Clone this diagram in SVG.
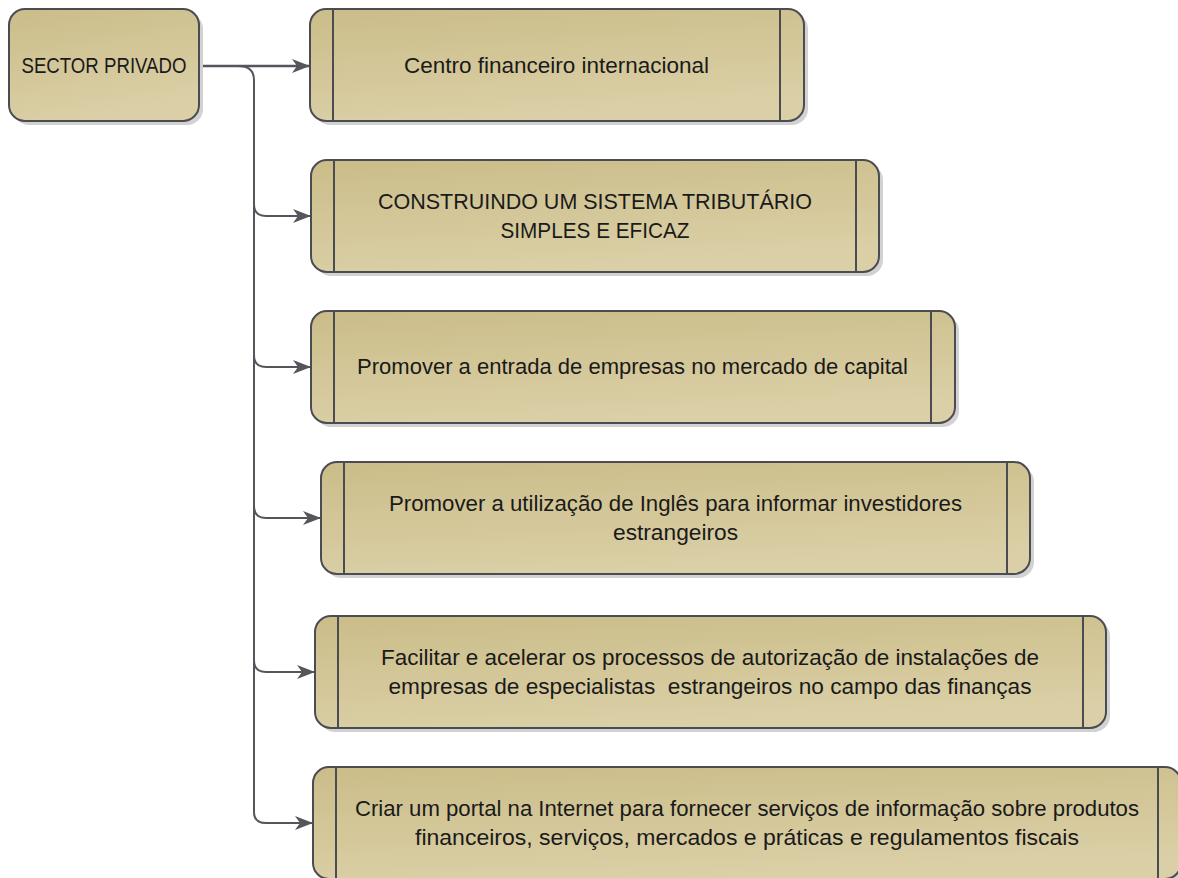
<svg xmlns="http://www.w3.org/2000/svg" width="1178" height="878" viewBox="0 0 1178 878">
<defs>
<linearGradient id="g" x1="0" y1="0" x2="0.3" y2="1">
<stop offset="0" stop-color="#cbbd89"/>
<stop offset="1" stop-color="#dacfa6"/>
</linearGradient>
<marker id="ah" viewBox="0 0 18 14" refX="18" refY="7" markerWidth="18" markerHeight="14" markerUnits="userSpaceOnUse" orient="auto">
<path d="M0,0 L18,7 L0,14 L5,7 Z" fill="#55555c"/>
</marker>
<style>
.sh{fill:#d2d2d2}
.bx{fill:url(#g);stroke:#4b4b52;stroke-width:2}
.dv{stroke:#4b4b52;stroke-width:2}
.t{font-family:"Liberation Sans",Arial,sans-serif;font-size:22px;fill:#1a1a1a;text-anchor:middle}
.c{fill:none;stroke:#55555c;stroke-width:2}
</style>
</defs>
<rect width="1178" height="878" fill="#ffffff"/>

<g id="connectors">
<path class="c" d="M199,66 L310,66" marker-end="url(#ah)" style="stroke-width:2.5"/>
<path class="c" d="M238,66 Q254,66 254,80 L254,812 Q254,823 266,823 L313,823" marker-end="url(#ah)"/>
<path class="c" d="M254,204 Q254,216 266,216 L311,216" marker-end="url(#ah)"/>
<path class="c" d="M254,355 Q254,367 266,367 L311,367" marker-end="url(#ah)"/>
<path class="c" d="M254,506 Q254,518 266,518 L321,518" marker-end="url(#ah)"/>
<path class="c" d="M254,660 Q254,672 266,672 L315,672" marker-end="url(#ah)"/>
</g>

<g id="source">
<rect class="sh" x="13" y="13" width="190" height="112" rx="16"/>
<rect class="bx" x="9" y="9" width="190" height="112" rx="16"/>
<text class="t" x="104" y="73" textLength="165" lengthAdjust="spacingAndGlyphs">SECTOR PRIVADO</text>
</g>

<g id="n1">
<rect class="sh" x="314" y="13" width="494" height="112" rx="16"/>
<rect class="bx" x="310" y="9" width="494" height="112" rx="16"/>
<line class="dv" x1="333" y1="9" x2="333" y2="121"/>
<line class="dv" x1="780" y1="9" x2="780" y2="121"/>
<text class="t" x="556.5" y="73" textLength="305" lengthAdjust="spacingAndGlyphs">Centro financeiro internacional</text>
</g>

<g id="n2">
<rect class="sh" x="315" y="164" width="568" height="112" rx="16"/>
<rect class="bx" x="311" y="160" width="568" height="112" rx="16"/>
<line class="dv" x1="334" y1="160" x2="334" y2="272"/>
<line class="dv" x1="856" y1="160" x2="856" y2="272"/>
<text class="t" x="595" y="209" textLength="434" lengthAdjust="spacingAndGlyphs">CONSTRUINDO UM SISTEMA TRIBUTÁRIO</text>
<text class="t" x="595" y="238" textLength="189" lengthAdjust="spacingAndGlyphs">SIMPLES E EFICAZ</text>
</g>

<g id="n3">
<rect class="sh" x="315" y="315" width="644" height="112" rx="16"/>
<rect class="bx" x="311" y="311" width="644" height="112" rx="16"/>
<line class="dv" x1="334" y1="311" x2="334" y2="423"/>
<line class="dv" x1="931" y1="311" x2="931" y2="423"/>
<text class="t" x="632.5" y="374" textLength="551" lengthAdjust="spacingAndGlyphs">Promover a entrada de empresas no mercado de capital</text>
</g>

<g id="n4">
<rect class="sh" x="325" y="466" width="709" height="112" rx="16"/>
<rect class="bx" x="321" y="462" width="709" height="112" rx="16"/>
<line class="dv" x1="344" y1="462" x2="344" y2="574"/>
<line class="dv" x1="1007" y1="462" x2="1007" y2="574"/>
<text class="t" x="675.5" y="511" textLength="573" lengthAdjust="spacingAndGlyphs">Promover a utilização de Inglês para informar investidores</text>
<text class="t" x="675.5" y="540" textLength="125" lengthAdjust="spacingAndGlyphs">estrangeiros</text>
</g>

<g id="n5">
<rect class="sh" x="319" y="620" width="791" height="112" rx="16"/>
<rect class="bx" x="315" y="616" width="791" height="112" rx="16"/>
<line class="dv" x1="338" y1="616" x2="338" y2="728"/>
<line class="dv" x1="1083" y1="616" x2="1083" y2="728"/>
<text class="t" x="710" y="665" textLength="658" lengthAdjust="spacingAndGlyphs">Facilitar e acelerar os processos de autorização de instalações de</text>
<text class="t" x="710" y="694" textLength="643" lengthAdjust="spacingAndGlyphs" xml:space="preserve">empresas de especialistas  estrangeiros no campo das finanças</text>
</g>

<g id="n6">
<rect class="sh" x="317" y="771" width="868" height="112" rx="16"/>
<rect class="bx" x="313" y="767" width="868" height="112" rx="16"/>
<line class="dv" x1="336" y1="767" x2="336" y2="879"/>
<line class="dv" x1="1158" y1="767" x2="1158" y2="879"/>
<text class="t" x="747" y="816" textLength="784" lengthAdjust="spacingAndGlyphs">Criar um portal na Internet para fornecer serviços de informação sobre produtos</text>
<text class="t" x="747" y="845" textLength="664" lengthAdjust="spacingAndGlyphs">financeiros, serviços, mercados e práticas e regulamentos fiscais</text>
</g>
</svg>
